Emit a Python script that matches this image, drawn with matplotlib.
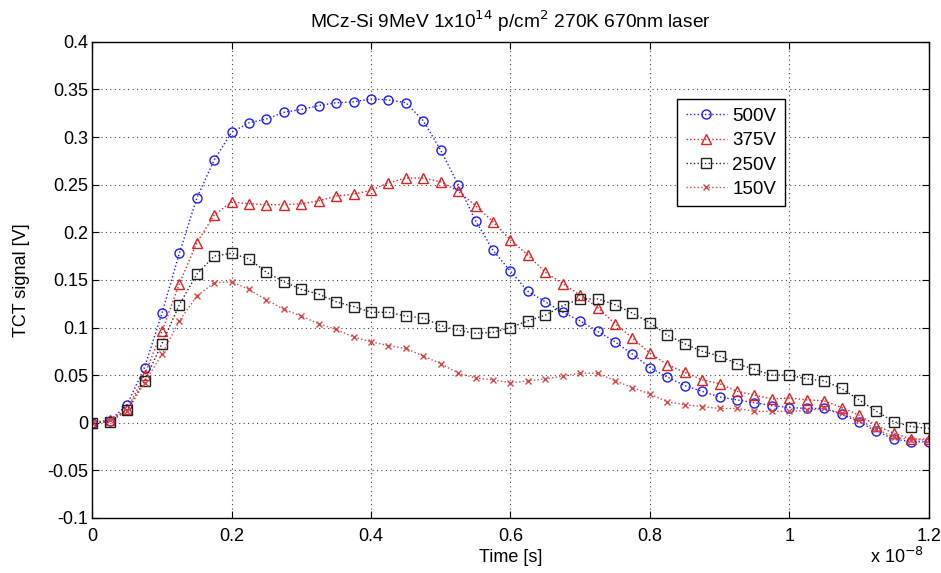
import numpy as np
import matplotlib
matplotlib.use('Agg')
import matplotlib.pyplot as plt
from matplotlib.ticker import FuncFormatter, MultipleLocator

# time axis: 49 samples, 0.25 ns apart
n_points = 49
time_step = 0.025e-8
time = np.arange(n_points) * time_step

v500 = [0.000, 0.002, 0.019, 0.058, 0.115, 0.178, 0.236, 0.276, 0.305, 0.315,
        0.319, 0.326, 0.329, 0.333, 0.336, 0.337, 0.340, 0.339, 0.336, 0.317,
        0.286, 0.250, 0.212, 0.181, 0.159, 0.138, 0.127, 0.116, 0.107, 0.096,
        0.085, 0.072, 0.058, 0.048, 0.039, 0.033, 0.027, 0.024, 0.021, 0.018,
        0.016, 0.015, 0.015, 0.009, 0.001, -0.009, -0.017, -0.020, -0.020]
v375 = [0.000, 0.003, 0.014, 0.050, 0.096, 0.146, 0.189, 0.218, 0.232, 0.230,
        0.229, 0.229, 0.230, 0.233, 0.238, 0.240, 0.244, 0.252, 0.257, 0.257,
        0.253, 0.243, 0.228, 0.211, 0.192, 0.176, 0.158, 0.146, 0.134, 0.121,
        0.104, 0.089, 0.073, 0.061, 0.053, 0.045, 0.041, 0.033, 0.029, 0.025,
        0.026, 0.024, 0.023, 0.016, 0.008, -0.003, -0.011, -0.017, -0.017]
v250 = [0.000, 0.001, 0.013, 0.044, 0.083, 0.124, 0.156, 0.175, 0.178, 0.172,
        0.158, 0.148, 0.140, 0.135, 0.127, 0.122, 0.116, 0.116, 0.112, 0.110,
        0.102, 0.097, 0.094, 0.095, 0.100, 0.107, 0.113, 0.123, 0.130, 0.130,
        0.124, 0.115, 0.105, 0.092, 0.083, 0.075, 0.070, 0.062, 0.056, 0.050,
        0.050, 0.046, 0.044, 0.036, 0.024, 0.012, 0.001, -0.004, -0.006]
v150 = [0.000, 0.003, 0.012, 0.042, 0.072, 0.107, 0.133, 0.147, 0.148, 0.140,
        0.129, 0.119, 0.112, 0.104, 0.098, 0.090, 0.085, 0.081, 0.078, 0.070,
        0.062, 0.052, 0.047, 0.045, 0.042, 0.044, 0.046, 0.049, 0.052, 0.052,
        0.044, 0.037, 0.030, 0.022, 0.019, 0.017, 0.015, 0.015, 0.012, 0.012,
        0.012, 0.013, 0.015, 0.010, 0.003, -0.007, -0.015, -0.018, -0.018]

labels = ['500V', '375V', '250V', '150V']
series = [v500, v375, v250, v150]
colors = ['#1a1aff', '#e02020', '#202020', '#d84848']
markers = ['o', '^', 's', 'x']
msizes = [6.5, 7, 6.5, 4.5]

plt.rcParams['font.family'] = ['Liberation Sans', 'DejaVu Sans']

fig = plt.figure(figsize=(9.41, 5.73), dpi=100)
ax = fig.add_axes([0.098, 0.096, 0.889, 0.831])

for vals, lab, col, mk, ms in zip(series, labels, colors, markers, msizes):
    ax.plot(time, vals, linestyle=':', linewidth=1.0, color=col,
            marker=mk, markersize=ms,
            markerfacecolor='none', markeredgecolor=col,
            markeredgewidth=1.0, label=lab)

ax.set_xlim(0, 1.2e-8)
ax.set_ylim(-0.1, 0.4)
ax.xaxis.set_major_locator(MultipleLocator(0.2e-8))
ax.yaxis.set_major_locator(MultipleLocator(0.05))
ax.xaxis.set_major_formatter(FuncFormatter(lambda v, p: '%g' % round(v / 1e-8, 4)))
ax.yaxis.set_major_formatter(FuncFormatter(lambda v, p: '%g' % round(v, 4)))

ax.grid(True, linestyle=(0, (1, 3)), color='#444444', linewidth=0.8)
ax.tick_params(direction='in', top=True, right=True, length=5, labelsize=13)
ax.tick_params(axis='x', pad=7)
ax.tick_params(axis='y', pad=3)
for s in ax.spines.values():
    s.set_linewidth(1.0)

ax.set_xlabel('Time [s]', fontsize=13, labelpad=3)
ax.set_ylabel('TCT signal [V]', fontsize=13)
ax.yaxis.set_label_coords(-0.074, 0.5)
ax.set_title('MCz-Si 9MeV 1x10$^{14}$ p/cm$^{2}$ 270K 670nm laser',
             fontsize=13.8, pad=10)
fig.text(0.982, 0.010, 'x 10$^{-8}$', ha='right', va='bottom', fontsize=13)

leg = ax.legend(loc='upper right', bbox_to_anchor=(0.828, 0.879), fancybox=False,
                edgecolor='black', framealpha=1, handlelength=2.2,
                prop={'size': 13.5}, borderpad=0.45, labelspacing=0.38,
                handletextpad=0.3, borderaxespad=0)
leg.get_frame().set_linewidth(1.0)

fig.savefig('out.png', dpi=100)
